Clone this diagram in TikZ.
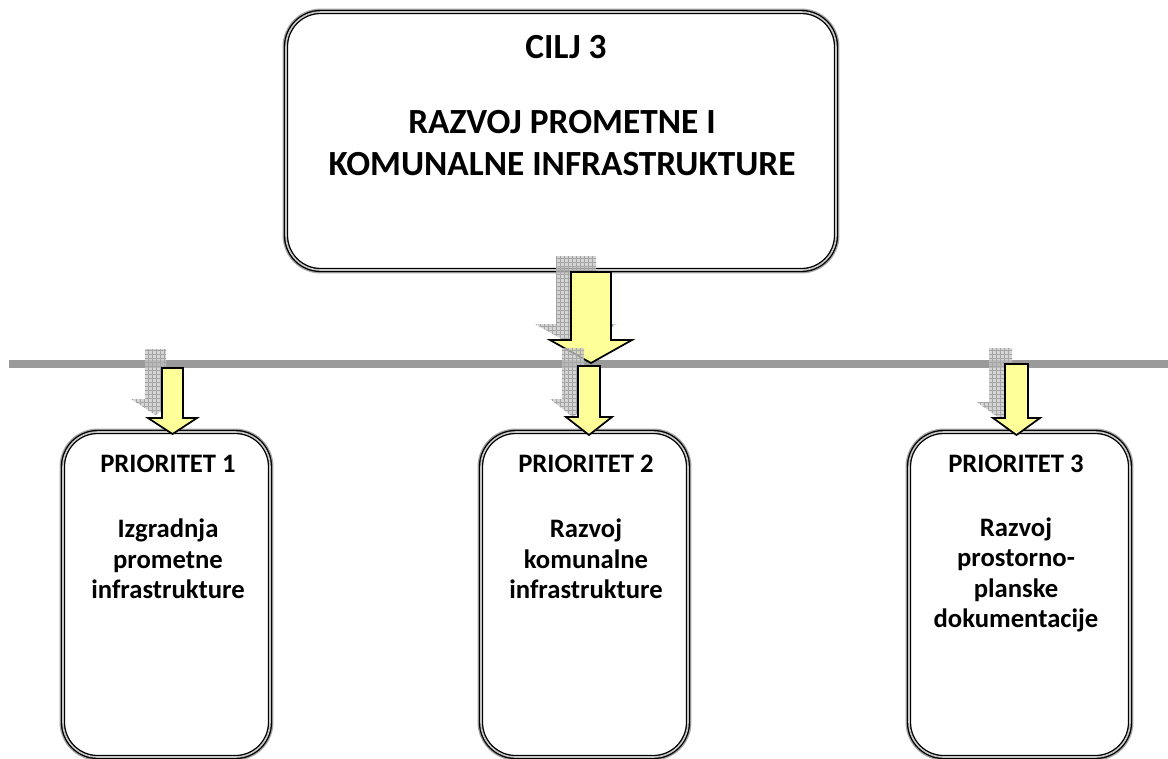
\documentclass[tikz,border=0pt]{standalone}
\usepackage{fontspec}
\setmainfont{Carlito}
\usetikzlibrary{patterns}
\definecolor{ayellow}{HTML}{FFFF99}
\definecolor{hline}{HTML}{9A9A9A}
\newcommand\barrowpath[6]{(#1-#5,#2) -- (#1+#5,#2) -- (#1+#5,#3) -- (#1+#6,#3) -- (#1,#4) -- (#1-#6,#3) -- (#1-#5,#3) -- cycle}
\begin{document}
\begin{tikzpicture}[x=0.75pt,y=-0.75pt,
  tribox/.style={draw=black, line width=1pt, double=gray!45, double distance=1.2pt,
    rounded corners=26pt, inner sep=0pt, fill=white,
    preaction={draw=gray!70, line width=5.2pt}},
  ttl/.style={font=\fontsize{26.5}{31}\selectfont\bfseries, anchor=base, inner sep=0pt},
  btx/.style={font=\fontsize{20}{24}\selectfont\bfseries, anchor=base, inner sep=0pt},
  arrowbody/.style={fill=ayellow, draw=black, line width=1.3pt, line join=miter},
  arrowshadow/.style={fill=gray!45, fill opacity=0.75,
    postaction={pattern=grid, pattern color=gray!70}}]
\useasboundingbox (0,0) rectangle (1168,758);
% boxes
\node[tribox, minimum width=412.5pt, minimum height=193.5pt] (cilj) at (561,141) {};
\node[tribox, minimum width=155.25pt, minimum height=243.75pt] (p1) at (166.5,594.5) {};
\node[tribox, minimum width=155.25pt, minimum height=243.75pt] (p2) at (584.5,594.5) {};
\node[tribox, minimum width=165.75pt, minimum height=243.75pt] (p3) at (1019.5,594.5) {};
% texts
\node[ttl] (c1) at (566,58) {CILJ 3};
\node[ttl] (c2) at (562,133) {RAZVOJ PROMETNE I};
\node[ttl] (c3) at (562,175) {KOMUNALNE INFRASTRUKTURE};
\node[btx] (p1a) at (168,472) {PRIORITET 1};
\node[btx] (p1b) at (168,537) {Izgradnja};
\node[btx] (p1c) at (168,568) {prometne};
\node[btx] (p1d) at (168,598) {infrastrukture};
\node[btx] (p2a) at (586,472) {PRIORITET 2};
\node[btx] (p2b) at (586,537) {Razvoj};
\node[btx] (p2c) at (586,568) {komunalne};
\node[btx] (p2d) at (586,598) {infrastrukture};
\node[btx] (p3a) at (1016,472) {PRIORITET 3};
\node[btx] (p3b) at (1016,536) {Razvoj};
\node[btx] (p3c) at (1016,566) {prostorno-};
\node[btx] (p3d) at (1016,597) {planske};
\node[btx] (p3e) at (1016,627) {dokumentacije};
% horizontal bar
\coordinate (hl) at (9,364);
\coordinate (hr) at (1168,364);
% shadows of arrows
\begin{scope}[shift={(-15,-16)}]
  \path[arrowshadow] \barrowpath{591}{272}{340}{363}{20}{41};
\end{scope}
\draw[hline, line width=5.5pt] (hl) -- (hr);
\begin{scope}[shift={(-17,-19)}]
  \path[arrowshadow] \barrowpath{172.5}{368}{418}{434}{10.5}{24.5};
\end{scope}
\begin{scope}[shift={(-16,-16)}]
  \path[arrowshadow] \barrowpath{1016.5}{364}{418}{435}{11.5}{23.5};
\end{scope}
% arrows
\path[arrowbody] \barrowpath{591}{272}{340}{363}{20}{41};
\begin{scope}[shift={(-16,-18)}]
  \path[arrowshadow] \barrowpath{589}{366}{417}{435}{11}{23};
\end{scope}
\path[arrowbody] \barrowpath{589}{366}{417}{435}{11}{23};
\path[arrowbody] \barrowpath{172.5}{368}{418}{434}{10.5}{24.5};
\path[arrowbody] \barrowpath{1016.5}{364}{418}{435}{11.5}{23.5};
\end{tikzpicture}
\end{document}
